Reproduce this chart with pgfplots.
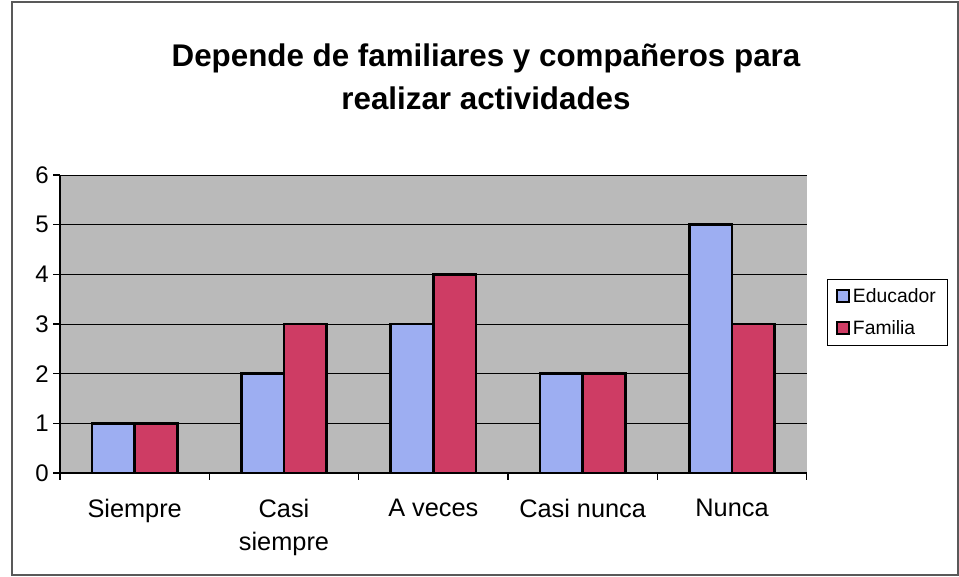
\documentclass[border=0pt]{standalone}
\usepackage{pgfplots}
\pgfplotsset{compat=1.18}
\usepackage{fontspec}
\setmainfont{Liberation Sans}
\definecolor{educ}{HTML}{9DAEF2}
\definecolor{fam}{HTML}{CE3C64}
\definecolor{plotbg}{HTML}{BABABA}

\begin{document}
\begin{tikzpicture}
\useasboundingbox (0,0) rectangle (719.25pt,432.75pt);
\draw[gray!70!black, line width=0.8pt] (9pt,1.5pt) rectangle (718.5pt,431.25pt);
\node[font=\bfseries\fontsize{23.5}{32}\selectfont, align=center] at (364.5pt,375pt)
  {Depende de familiares y compañeros para\\realizar actividades};
\begin{axis}[
  at={(45pt,78pt)}, anchor=south west,
  scale only axis, width=560pt, height=223.5pt,
  ybar=0pt, bar width=32pt,
  xmin=-0.5, xmax=4.5, ymin=0, ymax=6,
  ytick={0,...,6},
  xtick={-0.5,0.5,...,4.5}, xticklabels={},
  extra x ticks={0,1,2,3,4},
  extra x tick labels={Siempre,{Casi\\siempre},A veces,Casi nunca,Nunca},
  extra x tick style={major tick length=0pt, grid=none},
  xticklabel style={font=\fontsize{19}{25}\selectfont, align=center, anchor=north, yshift=-16pt},
  y tick label style={font=\fontsize{18}{20}\selectfont},
  /pgf/number format/assume math mode=true,
  tick align=outside, major tick length=5pt,
  axis x line*=bottom, axis y line*=left,
  axis line style={black, line width=0.8pt},
  tick style={black, line width=0.8pt},
  ymajorgrids, grid style={black, line width=0.7pt},
  axis background/.style={fill=plotbg},
  legend cell align=left,
  legend style={at={(1,0.539)}, anchor=west, xshift=15pt,
    font=\fontsize{14.5}{18}\selectfont, draw=black, fill=white,
    inner xsep=7pt, inner ysep=5pt, row sep=8pt},
  legend image code/.code={\draw[#1, draw=black, line width=1.5pt] (0cm,-4.5pt) rectangle (9pt,4.5pt);},
]
\addplot[fill=educ, draw=black, line width=2pt] coordinates {(0,1) (1,2) (2,3) (3,2) (4,5)};
\addplot[fill=fam, draw=black, line width=2pt] coordinates {(0,1) (1,3) (2,4) (3,2) (4,3)};
\legend{Educador,Familia}
\end{axis}
\end{tikzpicture}
\end{document}
